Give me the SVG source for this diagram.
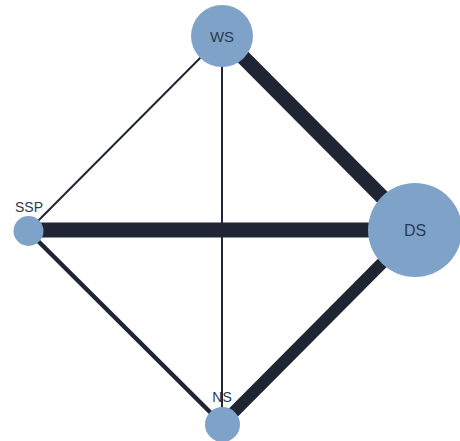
<svg xmlns="http://www.w3.org/2000/svg" width="460" height="441" viewBox="0 0 460 441">
<style>
.e{stroke:#1f2533;fill:none;stroke-linecap:butt}
.n{fill:#7fa3c8}
.t{font-family:"Liberation Sans",Arial,sans-serif;fill:#2b3a50;text-anchor:middle;dominant-baseline:central}
</style>
<rect width="460" height="441" fill="#ffffff"/>
<g id="edges">
<line class="e" x1="222" y1="36" x2="415" y2="230" stroke-width="15"/>
<line class="e" x1="28" y1="230" x2="415" y2="230" stroke-width="15"/>
<line class="e" x1="222" y1="424" x2="415" y2="230" stroke-width="12"/>
<line class="e" x1="28" y1="231" x2="222" y2="424" stroke-width="4.5"/>
<line class="e" x1="222" y1="36" x2="28" y2="231" stroke-width="2"/>
<line class="e" x1="222" y1="36" x2="222" y2="424" stroke-width="2"/>
</g>
<g id="WS"><circle class="n" cx="222" cy="36" r="31"/><text class="t" x="222" y="36" font-size="15">WS</text></g>
<g id="DS"><circle class="n" cx="415" cy="230" r="47"/><text class="t" x="415" y="230" font-size="16">DS</text></g>
<g id="SSP"><circle class="n" cx="28.5" cy="231" r="15"/><text class="t" x="29" y="207" font-size="14">SSP</text></g>
<g id="NS"><circle class="n" cx="222.5" cy="424.5" r="17.5"/><text class="t" x="222" y="397" font-size="14">NS</text></g>
</svg>
